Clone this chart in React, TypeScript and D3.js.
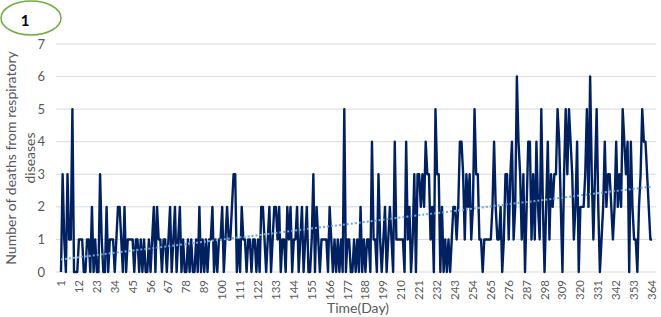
import React from "react";
import * as d3 from "d3";

// Daily deaths in ten chunks
const days1to35 = [0,3,1,0,3,1,1,5,0,0, 0,1,1,1,0,0,1,1,0,2, 0,1,0,0,3,1,0,0,2,0, 1,1,1,0,1];
const days36to72 = [2,2,1,0,2,0,1,1,1,1, 0,1,1,0,1,0,1,0,0,1, 0,1,2,0,2,1,1,0,1,1, 0,1,2,0,1,2,0];
const days73to108 = [1,2,0,1,0,0,1,0,1,0, 0,1,0,2,0,1,0,1,0,1, 1,2,0,1,0,1,1,2,0,1, 2,1,1,2,3,3];
const days109to145 = [0,1,0,2,1,1,0,1,1,0, 1,1,0,1,0,2,2,1,0,1, 2,0,1,2,2,1,2,0,1,1, 0,2,1,2,0,1,1];
const days146to182 = [2,0,1,2,0,1,2,0,0,1, 3,0,2,1,0,1,1,1,1,0, 2,1,0,1,0,1,0,1,0,5, 0,1,1,0,0,1,0];
const days183to219 = [1,0,2,0,1,0,1,1,0,4, 1,1,0,3,1,0,1,2,0,1, 2,1,0,4,1,1,1,1,1,0, 4,1,2,0,1,3,0];
const days220to256 = [3,3,2,3,2,4,3,3,1,2, 0,5,3,3,0,2,0,1,0,1, 0,1,2,2,1,2,4,4,3,1, 3,2,3,1,2,5,3];
const days257to292 = [3,1,1,0,1,1,1,1,1,2, 4,2,1,1,2,0,1,3,3,1, 3,4,1,2,6,4,3,1,3,0, 2,4,4,1,3,1];
const days293to329 = [4,2,1,5,2,0,2,4,1,3, 2,3,3,5,4,2,0,3,5,3, 5,4,3,1,2,4,0,2,2,2, 3,5,2,6,3,1,3];
const days330to364 = [5,2,0,1,2,4,2,3,3,2, 1,2,4,2,3,2,5,4,3,4, 0,4,2,1,1,0,2,3,5,4, 4,3,2,1,1];

const deaths = [
  ...days1to35, ...days36to72, ...days73to108, ...days109to145, ...days146to182,
  ...days183to219, ...days220to256, ...days257to292, ...days293to329, ...days330to364,
];
const days = deaths.map((_, i) => i + 1);
const xTickDays = d3.range(1, 365, 11);
const yTicks = [0, 1, 2, 3, 4, 5, 6, 7];

export default function App() {
  const W = 661, H = 317;
  const x = d3.scalePoint<number>().domain(days).range([61, 652]);
  const y = d3.scaleLinear().domain([0, 7]).range([272, 44]);

  const line = d3.line<number>()
    .x((_, i) => x(days[i])!)
    .y((v) => y(v));

  // linear trendline (least squares)
  const n = deaths.length;
  const mx = d3.mean(days)!;
  const my = d3.mean(deaths)!;
  let sxy = 0, sxx = 0;
  days.forEach((d, i) => { sxy += (d - mx) * (deaths[i] - my); sxx += (d - mx) * (d - mx); });
  const slope = sxy / sxx;
  const icpt = my - slope * mx;
  const trend = [days[0], days[n - 1]];

  const font = "Lato, 'Open Sans', sans-serif";
  const gray = "#595959";

  return (
    <svg width={W} height={H} style={{ position: "absolute", left: 0, top: 0, background: "#fff" }}>
      <ellipse cx={31} cy={18} rx={30} ry={17} fill="none" stroke="#70ad47" strokeWidth={1.5} />
      <text x={25} y={26} fontFamily={font} fontWeight="bold" fontSize={15} textAnchor="middle" fill="#000">1</text>

      {yTicks.map((t) => (
        <g key={t}>
          <line x1={56} x2={656} y1={y(t)} y2={y(t)} stroke="#d9d9d9" strokeWidth={1} />
          <text x={45} y={y(t) + 4.5} fontFamily={font} fontSize={13} fill={gray} textAnchor="end">{t}</text>
        </g>
      ))}

      {xTickDays.map((d) => (
        <text key={d} transform={`translate(${x(d)! + 4},280) rotate(-90)`} fontFamily={font} fontSize={11.5} fill={gray} textAnchor="end">{d}</text>
      ))}

      <path d={line(deaths) ?? ""} fill="none" stroke="#002060" strokeWidth={2.4} strokeLinejoin="round" />
      <line x1={x(trend[0])} y1={y(icpt + slope * trend[0])} x2={x(trend[1])} y2={y(icpt + slope * trend[1])}
        stroke="#6fa8dc" strokeWidth={2} strokeDasharray="2,2" />

      <text transform="translate(16,158) rotate(-90)" fontFamily={font} fontSize={14} fill={gray} textAnchor="middle">Number of deaths from respiratory</text>
      <text transform="translate(35,158) rotate(-90)" fontFamily={font} fontSize={14} fill={gray} textAnchor="middle">diseases</text>
      <text x={358} y={313} fontFamily={font} fontSize={14} fill={gray} textAnchor="middle">Time(Day)</text>
    </svg>
  );
}
